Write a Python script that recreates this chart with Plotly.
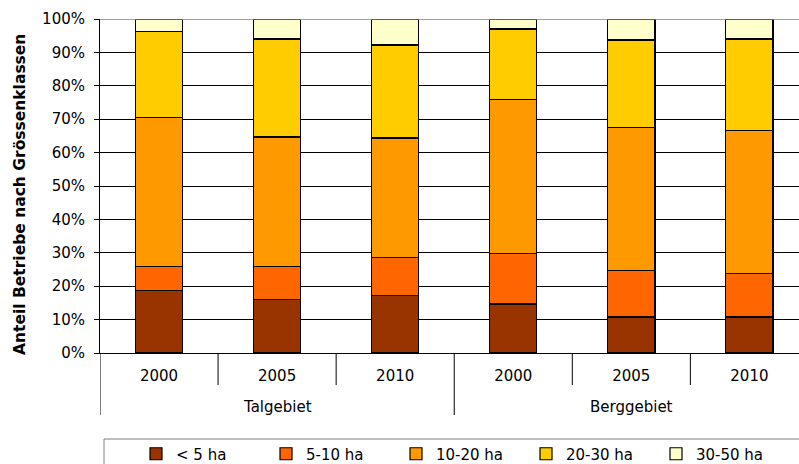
import plotly.graph_objects as go

# Category labels: region (outer level) and survey year (inner level)
regions = ["Talgebiet", "Talgebiet", "Talgebiet", "Berggebiet", "Berggebiet", "Berggebiet"]
years = ["2000", "2005", "2010", "2000", "2005", "2010"]
categories = [f"{r} {y}" for r, y in zip(regions, years)]
group_names = ["Talgebiet", "Berggebiet"]

# Share of farms per size class (%)
size_classes = ["< 5 ha", "5-10 ha", "10-20 ha", "20-30 ha", "30-50 ha"]
share_lt5 = [18.7, 15.9, 17.3, 14.7, 10.8, 10.8]
share_5_10 = [7.3, 10.0, 11.3, 15.0, 13.9, 13.1]
share_10_20 = [44.4, 38.8, 35.8, 46.1, 42.8, 42.7]
share_20_30 = [25.9, 29.3, 27.8, 21.2, 26.2, 27.4]
share_30_50 = [3.7, 6.0, 7.8, 3.0, 6.3, 6.0]

y_ticks = [0, 10, 20, 30, 40, 50, 60, 70, 80, 90, 100]
y_title = "Anteil Betriebe nach Grössenklassen"

series = [share_lt5, share_5_10, share_10_20, share_20_30, share_30_50]
colors = ["#993300", "#FF6600", "#FF9900", "#FFCC00", "#FFFFCC"]

FONT = "DejaVu Sans"
FS = 15
PLOT_W = 699  # plot area width in px
PLOT_H = 334  # plot area height in px

fig = go.Figure()
for name, vals, col in zip(size_classes, series, colors):
    fig.add_trace(go.Bar(
        x=categories,
        y=vals,
        name=name,
        marker=dict(color=col, line=dict(color="#000000", width=1.2)),
    ))

fig.update_layout(
    barmode="stack",
    bargap=0.6,
    width=799,
    height=464,
    margin=dict(l=100, r=0, t=19, b=111),
    paper_bgcolor="white",
    plot_bgcolor="white",
    font=dict(family=FONT, size=FS, color="#000000"),
    showlegend=True,
    legend=dict(
        orientation="h",
        xref="container", yref="container",
        x=136 / 799, xanchor="left",
        y=1 - 454 / 464, yanchor="middle",
        font=dict(family=FONT, size=FS, color="#000000"),
        bgcolor="rgba(0,0,0,0)",
        borderwidth=0,
        itemwidth=30,
        entrywidth=85,
        traceorder="normal",
    ),
    xaxis=dict(
        type="category",
        categoryorder="array",
        categoryarray=categories,
        tickvals=categories,
        ticktext=years,
        range=[-0.5, 5.42],
        automargin=False,
        showline=True,
        linecolor="#000000",
        linewidth=1,
        ticks="",
        ticklabelstandoff=9,
        tickfont=dict(family=FONT, size=FS, color="#000000"),
        showgrid=False,
    ),
    yaxis=dict(
        range=[0, 100],
        automargin=False,
        tickvals=y_ticks,
        ticktext=[f"{v}%" for v in y_ticks],
        showgrid=True,
        gridcolor="#000000",
        gridwidth=1,
        showline=True,
        linecolor="#000000",
        linewidth=1,
        ticks="outside",
        ticklen=5,
        tickcolor="#000000",
        ticklabelstandoff=6,
        tickfont=dict(family=FONT, size=FS, color="#000000"),
        zeroline=False,
    ),
)

# Vertical axis title
fig.add_annotation(
    x=-(100 - 20) / PLOT_W, xref="paper",
    y=(353 - 195) / PLOT_H, yref="paper",
    text=f"<b>{y_title}</b>", textangle=-90, showarrow=False,
    xanchor="center", yanchor="middle",
    font=dict(family=FONT, size=15.5, color="#000000"),
)

# Top border of the plot area in grey
fig.add_shape(type="line", xref="paper", yref="y", x0=0, x1=1, y0=100, y1=100,
              line=dict(color="#808080", width=1.5), layer="above")

# Separators between years (short) and between regions (long)
short_y = -(385 - 353) / PLOT_H
long_y = -(415 - 353) / PLOT_H
for b in [0.5, 1.5, 3.5, 4.5]:
    fig.add_shape(type="line", xref="x", yref="paper", x0=b, x1=b, y0=0, y1=short_y,
                  line=dict(color="#000000", width=1))
for b in [-0.5, 2.5, 5.5]:
    fig.add_shape(type="line", xref="x", yref="paper", x0=b, x1=b, y0=0, y1=long_y,
                  line=dict(color="#000000", width=1))

# Region labels centred under each group of three years
for i, g in enumerate(group_names):
    fig.add_annotation(
        x=categories[3 * i + 1], xref="x",
        y=-(407 - 353) / PLOT_H, yref="paper",
        text=g, showarrow=False, xanchor="center", yanchor="middle",
        font=dict(family=FONT, size=FS, color="#000000"),
    )

# Legend frame
fig.add_shape(
    type="rect", xref="paper", yref="paper",
    x0=4 / PLOT_W, x1=1.05, y0=-(439 - 353) / PLOT_H, y1=-0.45,
    line=dict(color="#808080", width=1),
    fillcolor="rgba(0,0,0,0)",
)

fig.write_html("out.html")
